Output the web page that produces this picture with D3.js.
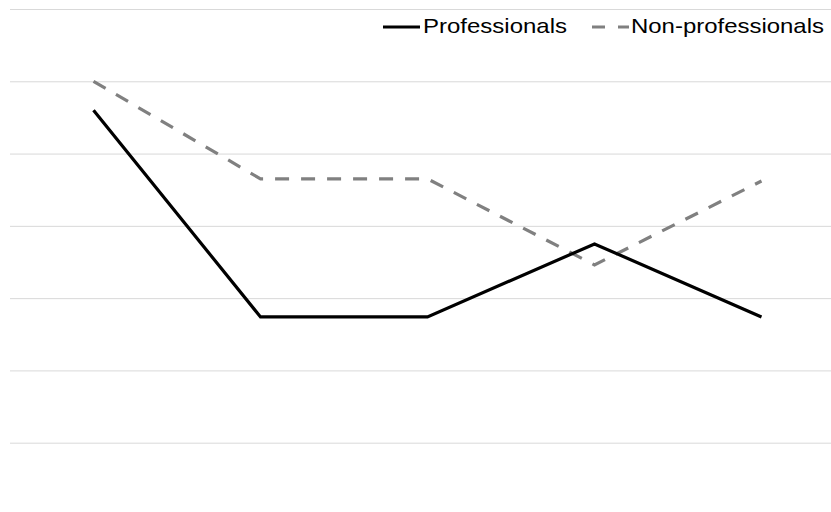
<!DOCTYPE html>
<html>
<head>
<meta charset="utf-8">
<script src="https://cdn.jsdelivr.net/npm/d3@7"></script>
<style>
  body { margin: 0; background: #fff; }
  svg { display: block; font-family: "Liberation Sans", Arial, sans-serif; }
</style>
</head>
<body>
<svg width="831" height="512"></svg>
<script>
// categories have no visible labels in the chart
const categories = ["1", "2", "3", "4", "5"];
const professionals = [4.6, 1.74, 1.74, 2.75, 1.74];
const nonProfessionals = [5.0, 3.65, 3.65, 2.46, 3.62];
const yTicks = [0, 1, 2, 3, 4, 5, 6];

let svg = d3.select("svg"),
  width = +svg.attr("width"),
  height = +svg.attr("height");

let x = d3.scalePoint().domain(categories).range([10, 845]).padding(0.5);
let y = d3.scaleLinear().domain([0, 6]).range([442.7, 9]);

// gridlines
svg
  .append("g")
  .attr("class", "grid")
  .attr("transform", "translate(10,0)")
  .call(d3.axisLeft(y).tickValues(yTicks).tickSize(-(width - 10)).tickFormat(""))
  .call(function (g) {
    g.select(".domain").remove();
    g.selectAll("line").attr("stroke", "#d9d9d9").attr("stroke-width", 1);
  });

let line = d3
  .line()
  .x(function (d, i) {
    return x(categories[i]);
  })
  .y(function (d) {
    return y(d);
  });

svg
  .append("path")
  .datum(nonProfessionals)
  .attr("d", line)
  .attr("fill", "none")
  .attr("stroke", "#808080")
  .attr("stroke-width", 3.2)
  .attr("stroke-dasharray", "14,12");

svg
  .append("path")
  .datum(professionals)
  .attr("d", line)
  .attr("fill", "none")
  .attr("stroke", "#000")
  .attr("stroke-width", 3.2);

// legend
let legend = svg.append("g").attr("class", "legend");

legend
  .append("line")
  .attr("x1", 383)
  .attr("x2", 420)
  .attr("y1", 27)
  .attr("y2", 27)
  .attr("stroke", "#000")
  .attr("stroke-width", 3.2);

legend
  .append("text")
  .attr("x", 423)
  .attr("y", 33)
  .attr("font-size", 21)
  .attr("textLength", 144)
  .attr("lengthAdjust", "spacingAndGlyphs")
  .text("Professionals");

legend
  .append("line")
  .attr("x1", 592)
  .attr("x2", 629)
  .attr("y1", 27)
  .attr("y2", 27)
  .attr("stroke", "#808080")
  .attr("stroke-width", 3.2)
  .attr("stroke-dasharray", "13,13");

legend
  .append("text")
  .attr("x", 631)
  .attr("y", 33)
  .attr("font-size", 21)
  .attr("textLength", 193)
  .attr("lengthAdjust", "spacingAndGlyphs")
  .text("Non-professionals");
</script>
</body>
</html>
